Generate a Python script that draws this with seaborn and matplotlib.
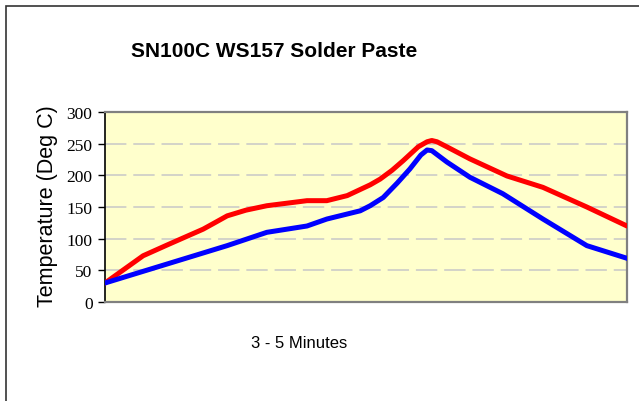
import matplotlib
matplotlib.use("Agg")
import matplotlib.pyplot as plt
import seaborn as sns
import pandas as pd
from matplotlib.patches import Rectangle

# data (x = % of the 3-5 minute run)
red_time = [0, 7.3, 11.9, 18.8, 21.0, 23.4, 27.0, 31.0, 38.7, 42.5, 46.4, 50.8,
            52.7, 55.0, 57.1, 60.0, 61.7, 62.6, 63.6, 65.5, 69.9, 77.0, 83.9,
            92.3, 100]
red_temp = [30, 73, 90, 115, 125, 136, 145, 152, 160, 160, 168, 185,
            194, 208, 223, 245, 253, 255, 253, 245, 226, 199, 181,
            150, 120]
blue_time = [0, 11.9, 23.4, 31.0, 38.7, 42.5, 48.9, 50.8, 53.3, 56.0, 58.4,
             60.5, 61.7, 62.6, 65.5, 69.9, 76.2, 83.9, 92.3, 100]
blue_temp = [30, 60, 89, 110, 120, 131, 144, 152, 165, 188, 210,
             232, 240, 239, 221, 197, 171, 131, 89, 69]
y_ticks = [0, 50, 100, 150, 200, 250, 300]

title = "SN100C WS157 Solder Paste"
x_label = "3 - 5 Minutes"
y_label = "Temperature (Deg C)"

sns.set_style("white")
plt.rcParams["text.color"] = "black"
plt.rcParams["ytick.labelcolor"] = "black"
sans = ["Liberation Sans", "DejaVu Sans"]
serif = ["Liberation Serif", "DejaVu Serif"]

fig = plt.figure(figsize=(6.39, 4.02), dpi=100)
ax = fig.add_axes([105 / 639, 1 - 303 / 402, 522 / 639, 190 / 402])
ax.set_facecolor("#FFFFCC")

red_df = pd.DataFrame({"t": red_time, "temp": red_temp})
blue_df = pd.DataFrame({"t": blue_time, "temp": blue_temp})
sns.lineplot(data=red_df, x="t", y="temp", color="#FF0000", linewidth=3.6,
             sort=False, ax=ax, solid_capstyle="round", solid_joinstyle="round",
             zorder=3)
sns.lineplot(data=blue_df, x="t", y="temp", color="#0000FF", linewidth=3.6,
             sort=False, ax=ax, solid_capstyle="round", solid_joinstyle="round",
             zorder=4)

ax.set_xlim(0, 100)
ax.set_ylim(0, 300)
ax.set_xticks([])
ax.set_yticks(y_ticks)
ax.set_yticklabels([str(v) for v in y_ticks], family=serif, fontsize=12.5,
                   color="black")
ax.tick_params(axis="y", direction="out", length=5, width=1, color="black",
               pad=4, left=True)
ax.set_xlabel("")
ax.set_ylabel("")

# dashed gridlines
for v in y_ticks[1:-1]:
    ax.axhline(v, color="#C8C8C8", linewidth=1.1, dashes=(14, 4.5), zorder=1)

for side in ["top", "right", "bottom"]:
    ax.spines[side].set_color("#808080")
    ax.spines[side].set_linewidth(1.6)
ax.spines["left"].set_color("black")
ax.spines["left"].set_linewidth(1.2)

fig.text(274 / 639, 1 - 57 / 402, title, ha="center", va="baseline",
         fontsize=15, fontweight="bold", family=sans, color="black")
fig.text(299 / 639, 1 - 348 / 402, x_label, ha="center", va="baseline",
         fontsize=12, family=sans, color="black")
fig.text(47 / 639, 1 - 206 / 402, y_label, ha="center", va="center",
         rotation=90, fontsize=15.5, family=sans, color="black")

# outer chart border
fig.patches.append(Rectangle((5.5 / 639, -0.1), 1.2, 1.1 - 6.5 / 402,
                             transform=fig.transFigure, fill=False,
                             edgecolor="#333333", linewidth=1.2))

fig.savefig("out.png", dpi=100)
